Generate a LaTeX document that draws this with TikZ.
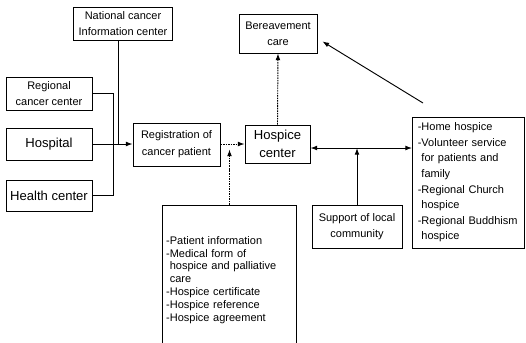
\documentclass[tikz,border=0pt]{standalone}
\usepackage{fontspec}
\setmainfont{Liberation Sans}
\usetikzlibrary{arrows.meta,calc}
\begin{document}
\begin{tikzpicture}[x=0.75pt,y=-0.75pt,
  box/.style={draw, line width=0.7pt, inner sep=0pt, align=center,
    font=\fontsize{8.25}{12.2}\selectfont},
  bigtxt/.style={font=\fontsize{9.8}{13.5}\selectfont},
  listbox/.style={draw, line width=0.7pt, inner ysep=0pt, align=left},
  conn/.style={line width=0.7pt},
  arr/.style={conn, -{Latex[length=5pt,width=3.6pt]}},
  darr/.style={conn, {Latex[length=5pt,width=3.6pt]}-{Latex[length=5pt,width=3.6pt]}},
  dots/.style={dash pattern=on 1.2pt off 0.7pt}]
\useasboundingbox (0,0) rectangle (526,343);
\fill[white] (0,0) rectangle (526,343);

% nodes
\node[box, minimum width=74.25pt, minimum height=24.75pt] (nat) at (123,23.5) {National cancer\\Information center};
\node[box, minimum width=58.5pt, minimum height=29.25pt] (ber) at (278,33.5) {Bereavement\\care};
\node[box, minimum width=64.5pt, minimum height=24.75pt] (reg) at (49,93.5) {Regional\\cancer center};
\node[box, bigtxt, minimum width=64.5pt, minimum height=24pt] (hosp) at (49,144) {Hospital};
\node[box, bigtxt, minimum width=64.5pt, minimum height=23.25pt] (health) at (49,195.5) {Health center};
\node[box, minimum width=65.25pt, minimum height=32.25pt, font=\fontsize{8.25}{12.8}\selectfont] (regis) at (176.5,144.5) {Registration of\\cancer patient};
\node[box, bigtxt, minimum width=48.75pt, minimum height=28.5pt] (hc) at (277.5,144) {Hospice\\center};
\node[box, minimum width=67.5pt, minimum height=32.25pt] (sup) at (357,226.5) {Support of local\\community};
\node[listbox, inner xsep=4pt, text width=76pt, minimum height=98.25pt,
  font=\fontsize{8.25}{11.7}\selectfont] (right) at (468.5,182.5)
  {-Home hospice\\-Volunteer service\\\phantom{-}for patients and\\\phantom{-}family\\-Regional Church\\\phantom{-}hospice\\-Regional Buddhism\\\phantom{-}hospice};
\node[inner xsep=2.5pt, inner ysep=0pt, text width=95pt, align=left, minimum height=112pt, anchor=north,
  font=\fontsize{8.25}{9.6}\selectfont] (info) at (229.5,205)
  {-Patient information\\-Medical form of\\\phantom{-}hospice and palliative\\\phantom{-}care\\-Hospice certificate\\-Hospice reference\\-Hospice agreement};
\draw[conn] (info.south west) -- (info.north west) -- (info.north east) -- (info.south east);

% coordinates
\coordinate (busT) at (113,93.5);
\coordinate (busB) at (113,195.5);
\coordinate (natj) at (118,144);
\coordinate (lineY) at (0,148);
\coordinate (infoj) at (229.5,149.5);
\coordinate (dstart) at (423,103);

% connectors
\draw[conn] (reg.east) -- (busT) -- (busB) -- (health.east);
\draw[arr] (hosp.east) -- (hosp.east -| regis.west);
\draw[conn] (nat.south -| natj) -- (natj);
\draw[arr, dots] (regis.east |- hc.west) -- (hc.west);
\draw[arr, dots] (info.north) -- (infoj);
\draw[darr] (hc.east |- lineY) -- (right.west |- lineY);
\draw[arr] (sup.north) -- (sup.north |- lineY);
\draw[arr, dots] (hc.north) -- (ber.south);
\draw[arr] (dstart) -- ($(ber.south east)+(5,-12)$);
\end{tikzpicture}
\end{document}
